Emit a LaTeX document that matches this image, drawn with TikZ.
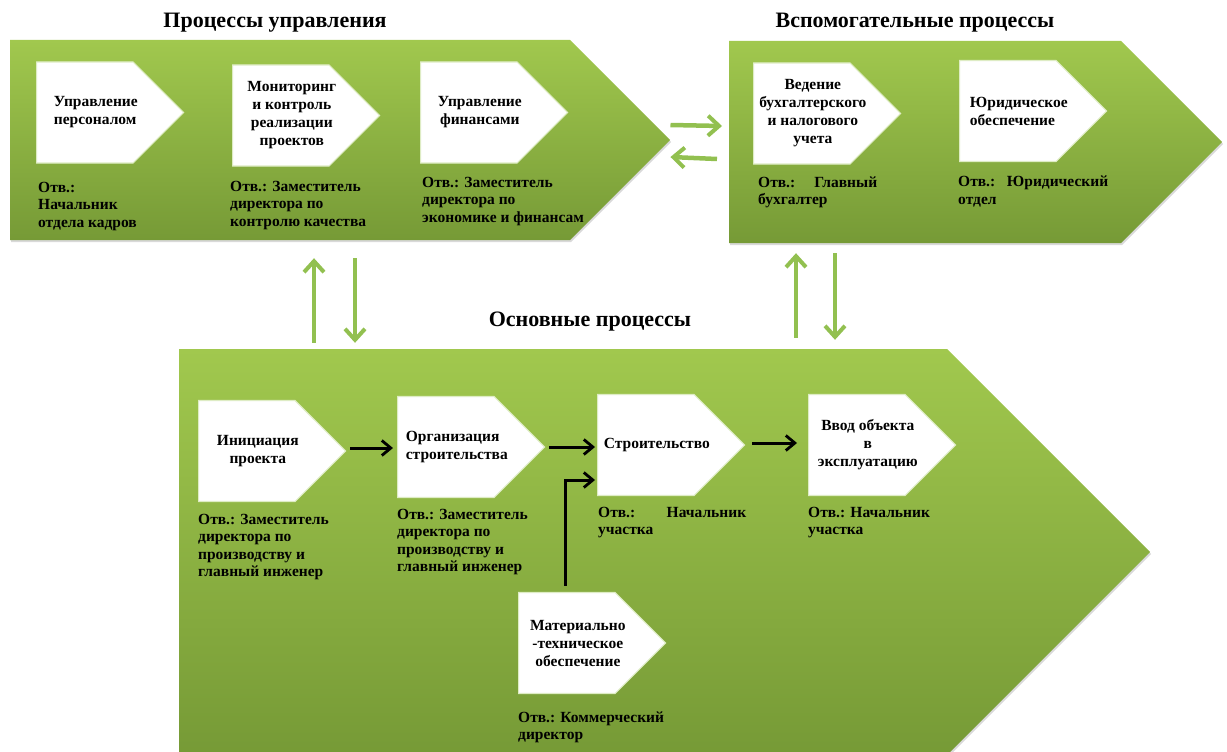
\documentclass[tikz,border=0pt]{standalone}
\usepackage{fontspec}
\setmainfont{Liberation Serif}
\usetikzlibrary{shapes.symbols, positioning, arrows.meta, shadows}
\definecolor{bandtop}{RGB}{161,200,78}
\definecolor{bandbottom}{RGB}{118,154,54}
\definecolor{linkgreen}{RGB}{146,192,80}
\definecolor{boxedge}{RGB}{222,236,196}
\newcommand{\stepfont}{\fontsize{15.5}{18}\selectfont\bfseries}
\newcommand{\respfont}{\fontsize{15.5}{17.5}\selectfont\bfseries}
\newcommand{\titlefont}{\fontsize{22}{26}\selectfont\bfseries}
\tikzstyle{band} = [signal, signal to=east, signal pointer angle=90,
inner sep=0pt,
top color=bandtop, bottom color=bandbottom,
drop shadow={shadow xshift=1pt, shadow yshift=-2pt, opacity=.3}]
\tikzstyle{stepbox} = [signal, signal to=east, signal pointer angle=90,
minimum width=147pt, 
minimum height=101pt, inner sep=0pt,
fill=white, draw=boxedge, line width=1.2pt]
\tikzstyle{steptext} = [font=\stepfont, align=center, xshift=11pt]
\tikzstyle{resp} = [font=\respfont, align=left, inner sep=0pt]
\tikzstyle{heading} = [font=\titlefont]
\tikzstyle{link} = [line width=4.5pt, draw=linkgreen,
-{Straight Barb[length=11pt, width=20pt, line width=4pt]}]
\tikzstyle{arrow} = [line width=3pt,
-{Straight Barb[length=9pt, width=15pt, line width=2.8pt]}]

\begin{document}
\begin{tikzpicture}[x=1pt, y=-1pt, node distance=200pt]
\useasboundingbox (0,0) rectangle (1227,752);

%-----------the three bands
\node (ctrl) [band, minimum width=660pt, minimum height=200pt, anchor=west]
  at (10,140) {};
\node (aux) [band, minimum width=493pt, minimum height=202pt, anchor=west]
  at (729,142) {};
\node (main) [band, minimum width=971pt, minimum height=406pt, anchor=west]
  at (179,552) {};

%-----------titles
\node (ctrltitle) [heading] at (275,23) {Процессы управления};
\node (auxtitle) [heading] at (915,23) {Вспомогательные процессы};
\node (maintitle) [heading] at (590,322) {Основные процессы};

%-----------management processes
\node (pers) [stepbox, anchor=west,
  label={[steptext, align=left]center:Управление\\персоналом}]
  at (36,112.5) {};
\node (monit) [stepbox, right of=pers, xshift=-4pt, yshift=-3pt,
  label={[steptext]center:Мониторинг\\и контроль\\реализации\\проектов}] {};
\node (fin) [stepbox, right of=monit, xshift=-12pt, yshift=3pt,
  label={[steptext]center:Управление\\финансами}] {};

\node (rpers) [resp, below right=18pt and 2pt of pers.south west]
  {Отв.:\\Начальник\\отдела кадров};
\node (rmonit) [resp, below right=14pt and -2pt of monit.south west]
  {Отв.: Заместитель\\директора по\\контролю качества};
\node (rfin) [resp, below right=13pt and 2pt of fin.south west]
  {Отв.: Заместитель\\директора по\\экономике и финансам};

%-----------support processes
\node (acct) [stepbox, anchor=west,
  label={[steptext]center:Ведение\\бухгалтерского\\и налогового\\учета}]
  at (753,113.5) {};
\node (legal) [stepbox, right of=acct, xshift=6pt, yshift=2.5pt,
  label={[steptext, align=left]center:Юридическое\\обеспечение}] {};

\node (racct) [resp, below right=12pt and 5pt of acct.south west]
  {\makebox[119pt][l]{Отв.:\hfill Главный}\\бухгалтер};
\node (rlegal) [resp, below right=14pt and -1pt of legal.south west]
  {\makebox[150pt][l]{Отв.:\hfill Юридический}\\отдел};

%-----------main processes
\node (init) [stepbox, anchor=west,
  label={[steptext]center:Инициация\\проекта}]
  at (198,451) {};
\node (org) [stepbox, right of=init, xshift=-1pt, yshift=4pt,
  label={[steptext, align=left]center:Организация\\строительства}] {};
\node (build) [stepbox, right of=org, yshift=2pt,
  label={[steptext]center:Строительство}] {};
\node (comm) [stepbox, right of=build, xshift=11pt,
  label={[steptext]center:Ввод объекта\\в\\эксплуатацию}] {};
\node (supply) [stepbox, below of=build, xshift=-79pt, yshift=2pt,
  label={[steptext]center:Материально\\-техническое\\обеспечение}] {};

\node (rinit) [resp, below right=11.5pt and 0pt of init.south west]
  {Отв.: Заместитель\\директора по\\производству и\\главный инженер};
\node (rorg) [resp, below right=10.5pt and 0pt of org.south west]
  {Отв.: Заместитель\\директора по\\производству и\\главный инженер};
\node (rbuild) [resp, below right=10.5pt and 1pt of build.south west]
  {\makebox[148pt][l]{Отв.:\hfill Начальник}\\участка};
\node (rcomm) [resp, below right=10.5pt and 0pt of comm.south west]
  {Отв.: Начальник\\участка};
\node (rsupply) [resp, below right=17.5pt and 0pt of supply.south west]
  {Отв.: Коммерческий\\директор};

%-----------links between the bands
\draw [link] ([yshift=15pt]ctrl.east) -- ([xshift=-7pt, yshift=16pt]aux.west);
\draw [link] ([xshift=-12pt, yshift=-17pt]aux.west) -- ([yshift=-17pt]ctrl.east);
\draw [link] ([xshift=135pt, yshift=6pt]main.north west)
  -- ([xshift=304pt, yshift=-18pt]ctrl.south west);
\draw [link] ([xshift=345pt, yshift=-18pt]ctrl.south west)
  -- ([xshift=176pt, yshift=6pt]main.north west);
\draw [link] ([xshift=617pt, yshift=11pt]main.north west)
  -- ([xshift=67pt, yshift=-10pt]aux.south west);
\draw [link] ([xshift=106pt, yshift=-10pt]aux.south west)
  -- ([xshift=656pt, yshift=9pt]main.north west);

%-----------flow of the main processes
\draw [arrow] ([xshift=4pt, yshift=3pt]init.east) -- ([xshift=-4pt, yshift=3pt]init.east -| org.west);
\draw [arrow] ([xshift=4pt]org.east) -- ([xshift=-2pt]org.east -| build.west);
\draw [arrow] ([xshift=7pt, yshift=2pt]build.east) -- ([xshift=-11pt, yshift=2pt]build.east -| comm.west);
\draw [arrow] ([xshift=47pt, yshift=6pt]supply.north west)
  |- ([xshift=-2pt, yshift=-35pt]build.west);

\end{tikzpicture}
\end{document}
